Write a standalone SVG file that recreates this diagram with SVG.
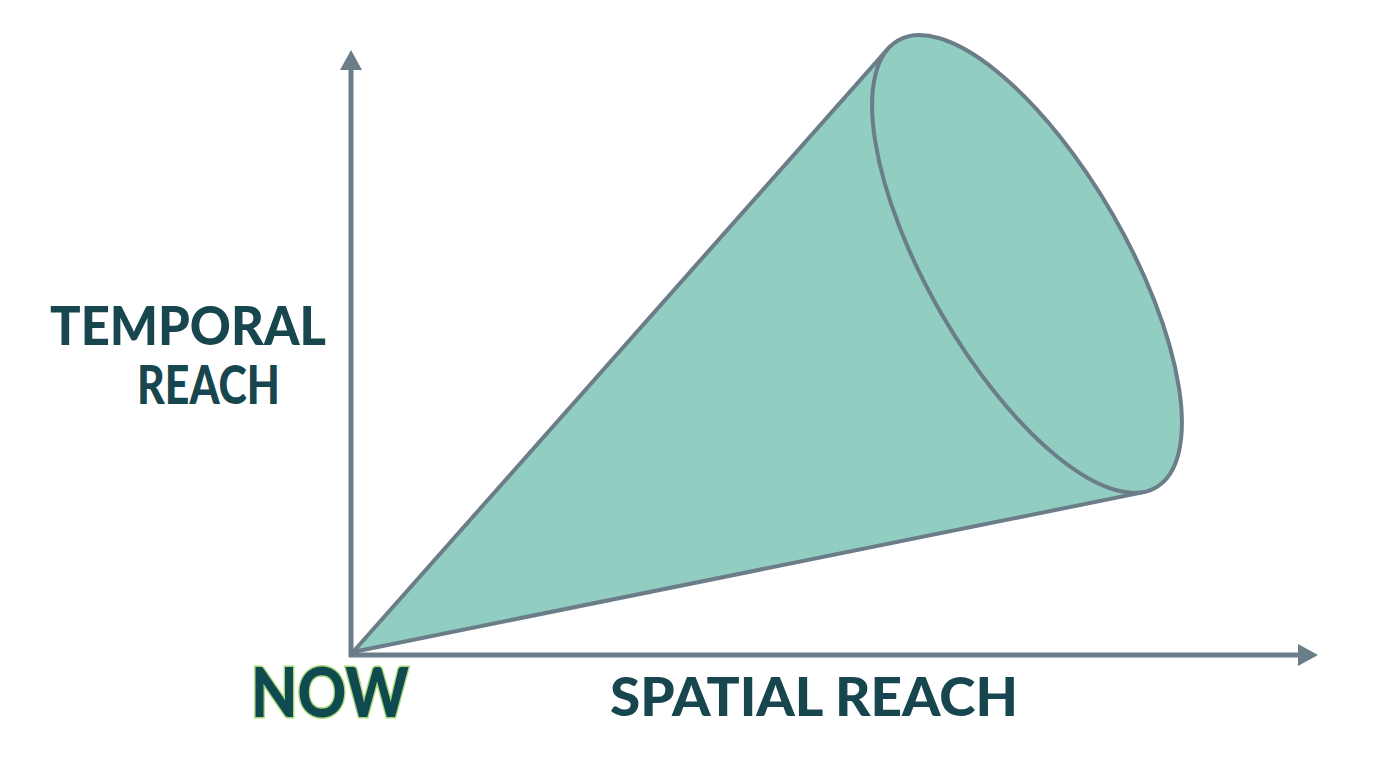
<svg xmlns="http://www.w3.org/2000/svg" width="1376" height="768" viewBox="0 0 1376 768">
  <style>
    .axis { stroke: #6b7d89; stroke-width: 5; fill: none; }
    .cone { fill: #91cdc1; stroke: #6b7d89; stroke-width: 4; stroke-linejoin: round; }
    .label { font-family: "Lato", "Liberation Sans", sans-serif; font-weight: 900; fill: #17464f; }
    .now { font-family: "Lato", "Liberation Sans", sans-serif; font-weight: 900; fill: #0e4a4f; stroke: #a9d978; stroke-width: 3; paint-order: stroke; }
  </style>
  <defs>
    <marker id="arrow" viewBox="0 0 20 22" refX="2" refY="11" markerWidth="20" markerHeight="22" markerUnits="userSpaceOnUse" orient="auto">
      <path d="M0,0 L20,11 L0,22 Z" fill="#6b7d89"/>
    </marker>
  </defs>
  <rect width="1376" height="768" fill="#ffffff"/>
  <g id="cone">
    <path class="cone" d="M353,652 L887.9,48.8 A258,99 60 0 1 1143.8,492.1 Z"/>
    <ellipse class="cone" cx="1027" cy="264" rx="258" ry="99" transform="rotate(60 1027 264)"/>
  </g>
  <g id="connectors">
    <line class="axis" x1="351" y1="657" x2="351" y2="68" marker-end="url(#arrow)"/>
    <line class="axis" x1="349" y1="655" x2="1300" y2="655" marker-end="url(#arrow)"/>
  </g>
  <g id="temporal-label">
    <text class="label" x="50" y="345" font-size="53" textLength="276" lengthAdjust="spacingAndGlyphs">TEMPORAL</text>
    <text class="label" x="137" y="404" font-size="53" textLength="143" lengthAdjust="spacingAndGlyphs">REACH</text>
  </g>
  <g id="spatial-label">
    <text class="label" x="610" y="716" font-size="54" textLength="408" lengthAdjust="spacingAndGlyphs">SPATIAL REACH</text>
  </g>
  <g id="now-label">
    <text class="now" x="251" y="717" font-size="68" textLength="158" lengthAdjust="spacingAndGlyphs">NOW</text>
  </g>
</svg>
